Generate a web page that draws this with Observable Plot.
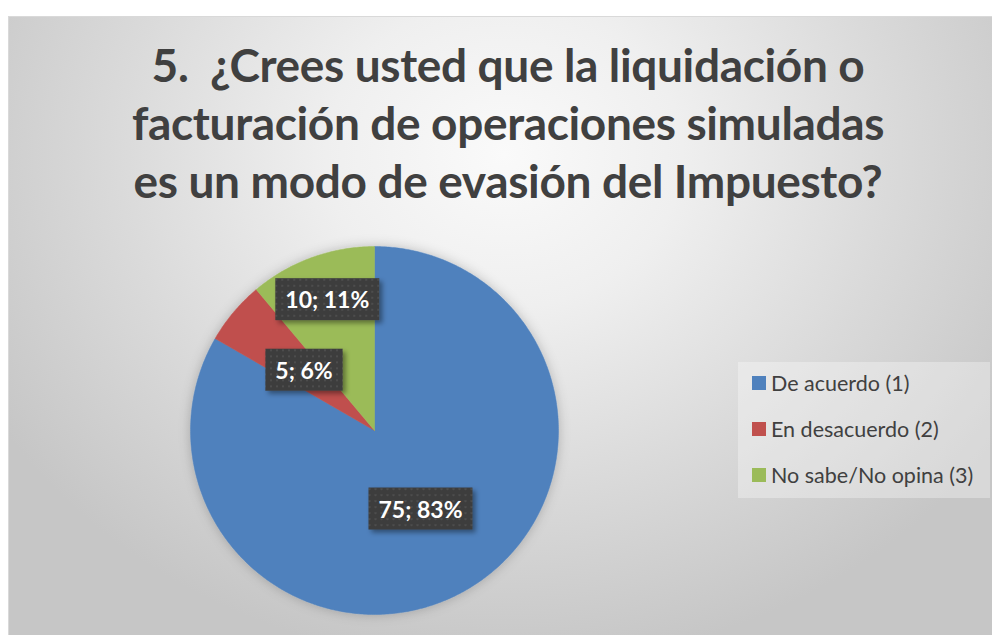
<!DOCTYPE html>
<html>
<head>
<meta charset="utf-8">
<script src="https://cdn.jsdelivr.net/npm/d3@7"></script>
<script src="https://cdn.jsdelivr.net/npm/@observablehq/plot@0.6"></script>
<style>
  html, body { margin: 0; padding: 0; background: #ffffff; }
  #page { position: relative; width: 992px; height: 635px; overflow: hidden; background: #fff; }
  #card {
    position: absolute; left: 8px; top: 16px; width: 990px; height: 625px;
    border-top: 1px solid #d9d9d9; border-left: 1px solid #d9d9d9;
    background: radial-gradient(ellipse 60% 82% at 50% 22%, #fafafa 0%, #efefef 30%, #dadada 65%, #c6c6c6 100%);
  }
  #title {
    position: absolute; left: 0; top: 36px; width: 1016px; text-align: center;
    font-family: Lato, "Open Sans", sans-serif; font-weight: 700; font-size: 46px;
    letter-spacing: -0.35px;
    line-height: 58px; color: #404040; white-space: pre;
  }
  #chart { position: absolute; left: 0; top: 230px; }
  #legend {
    position: absolute; left: 738px; top: 362px; width: 252px; height: 136px;
    background: rgba(255,255,255,0.32);
    font-family: Lato, "Open Sans", sans-serif; font-size: 21.5px; color: #404040;
  }
  .item { position: absolute; left: 14px; display: flex; align-items: center; white-space: nowrap; }
  .sw { width: 14px; height: 14px; margin-right: 5px; }
</style>
</head>
<body>
<div id="page">
  <div id="card"></div>
  <div id="title"></div>
  <div id="chart"></div>
  <div id="legend"></div>
</div>
<script>
const titleLines = ["5.  ¿Crees usted que la liquidación o", "facturación de operaciones simuladas", "es un modo de evasión del Impuesto?"];
const categories = ["De acuerdo (1)", "En desacuerdo (2)", "No sabe/No opina (3)"];
const counts = [75, 5, 10];
const percentLabels = ["83%", "6%", "11%"];
const colors = ["#4F81BD", "#C0504D", "#9BBB59"];

document.getElementById("title").textContent = titleLines.join("\n");

// build slice polygons from the values
const arcs = d3.pie().sort(null).value(d => d)(counts);
const slicePts = [];
arcs.forEach((a, i) => {
  slicePts.push({cat: categories[i], x: 0, y: 0});
  const n = Math.max(2, Math.ceil((a.endAngle - a.startAngle) / 0.01));
  for (let k = 0; k <= n; k++) {
    const t = a.startAngle + (a.endAngle - a.startAngle) * k / n;
    slicePts.push({cat: categories[i], x: Math.sin(t), y: Math.cos(t)});
  }
  slicePts.push({cat: categories[i], x: 0, y: 0});
});
// label positions (best-fit style: small slice pushed outward)
const labels = arcs.map((a, i) => {
  const m = (a.startAngle + a.endAngle) / 2;
  const r = i === 2 ? 0.75 : 0.5;
  return {text: `${counts[i]}; ${percentLabels[i]}`, x: r * Math.sin(m), y: r * Math.cos(m)};
});

const plot = Plot.plot({
  width: 600, height: 405,
  margin: 0,
  x: {domain: [-1, 1], range: [190, 558], axis: null},
  y: {domain: [-1, 1], range: [384, 16], axis: null},
  color: {domain: categories, range: colors},
  style: {background: "transparent", overflow: "visible"},
  marks: [
    Plot.line(slicePts, {x: "x", y: "y", z: "cat", fill: "cat", stroke: "cat", strokeWidth: 0.5, curve: "linear", className: "slices"}),
    Plot.text(labels, {x: "x", y: "y", text: "text", fill: "white", fontSize: 23, fontWeight: "bold",
      fontFamily: "Lato, 'Open Sans', sans-serif", className: "lbls"})
  ]
});
document.getElementById("chart").appendChild(plot);

// defs: dotted pattern and shadows
const ns = "http://www.w3.org/2000/svg";
const defs = document.createElementNS(ns, "defs");
defs.innerHTML = `
  <pattern id="dots" width="6" height="6" patternUnits="userSpaceOnUse">
    <rect width="6" height="6" fill="#3d3d3d"/>
    <rect x="2" y="2" width="2" height="2" fill="#4d4d4d"/>
  </pattern>
  <filter id="shadow" x="-20%" y="-20%" width="150%" height="160%">
    <feDropShadow dx="3" dy="3" stdDeviation="2.5" flood-color="#000" flood-opacity="0.4"/>
  </filter>
  <filter id="glow" x="-20%" y="-20%" width="140%" height="140%">
    <feDropShadow dx="0" dy="0" stdDeviation="6" flood-color="#000" flood-opacity="0.22"/>
  </filter>`;
plot.insertBefore(defs, plot.firstChild);
const sl = plot.querySelector("g.slices");
if (sl) sl.setAttribute("filter", "url(#glow)");
const lg = plot.querySelector("g.lbls");
if (lg) {
  lg.querySelectorAll("text").forEach(t => {
    const b = t.getBBox();
    const r = document.createElementNS(ns, "rect");
    const w = b.width + 20, h = 42;
    const cx = b.x + b.width / 2, cy = b.y + b.height / 2;
    r.setAttribute("x", cx - w / 2);
    r.setAttribute("y", cy - h / 2);
    r.setAttribute("width", w);
    r.setAttribute("height", h);
    r.setAttribute("fill", "url(#dots)");
    r.setAttribute("filter", "url(#shadow)");
    const tr = t.getAttribute("transform");
    if (tr) r.setAttribute("transform", tr);
    lg.insertBefore(r, t);
  });
}

// legend
const legend = document.getElementById("legend");
categories.forEach((c, i) => {
  const it = document.createElement("div");
  it.className = "item";
  it.style.top = (8 + i * 46) + "px";
  it.innerHTML = `<span class="sw" style="background:${colors[i]}"></span><span>${c}</span>`;
  legend.appendChild(it);
});
</script>
</body>
</html>
